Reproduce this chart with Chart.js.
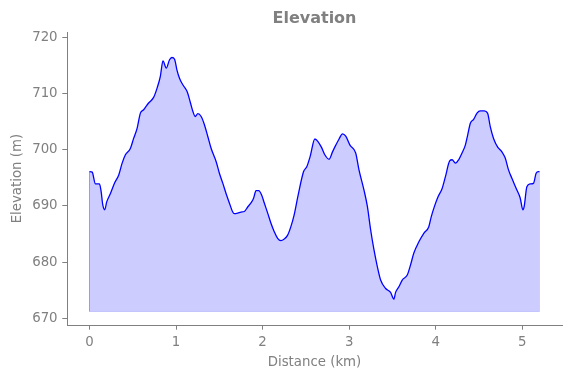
<!DOCTYPE html>
<html>
<head>
<meta charset="utf-8">
<script src="https://cdn.jsdelivr.net/npm/chart.js@4.4.1/dist/chart.umd.min.js"></script>
<style>
  html, body { margin: 0; padding: 0; background: #fff; }
  #wrap { width: 571px; height: 378px; position: relative; }
</style>
</head>
<body>
<div id="wrap"><canvas id="elev"></canvas></div>
<script>
// distance along the track (km) and elevation (m)
const KM = [
  0.000, 0.031, 0.069, 0.115, 0.135, 0.153, 0.176, 0.199, 0.242, 0.291,
  0.338, 0.377, 0.415, 0.472, 0.510, 0.550, 0.588, 0.626, 0.683, 0.741,
  0.780, 0.818, 0.849, 0.887, 0.925, 0.953, 0.983, 1.010, 1.040, 1.080,
  1.129, 1.167, 1.195, 1.221, 1.252, 1.290, 1.329, 1.368, 1.406, 1.463,
  1.501, 1.541, 1.578, 1.628, 1.652, 1.674, 1.713, 1.751, 1.789, 1.828,
  1.874, 1.897, 1.924, 1.955, 1.990, 2.020, 2.059, 2.097, 2.135, 2.174,
  2.212, 2.250, 2.290, 2.327, 2.365, 2.411, 2.474, 2.512, 2.550, 2.604,
  2.642, 2.681, 2.719, 2.768, 2.808, 2.846, 2.884, 2.923, 2.961, 3.010,
  3.076, 3.114, 3.172, 3.211, 3.249, 3.287, 3.326, 3.364, 3.422, 3.479,
  3.517, 3.537, 3.575, 3.614, 3.672, 3.710, 3.748, 3.806, 3.863, 3.921,
  3.948, 3.986, 4.024, 4.075, 4.113, 4.162, 4.190, 4.228, 4.266, 4.305,
  4.343, 4.370, 4.401, 4.439, 4.478, 4.516, 4.562, 4.600, 4.631, 4.669,
  4.715, 4.766, 4.804, 4.842, 4.881, 4.931, 4.977, 5.008, 5.023, 5.054,
  5.092, 5.130, 5.161, 5.188, 5.200
];
const ELEV = [
  696.1, 696.0, 693.9, 693.9, 692.5, 690.2, 689.3, 690.7, 692.2, 694.1,
  695.5, 697.6, 699.1, 700.2, 702.0, 703.8, 706.5, 707.1, 708.3, 709.3,
  710.9, 713.0, 715.8, 714.5, 716.0, 716.4, 716.1, 714.2, 712.7, 711.5,
  710.3, 708.3, 706.8, 705.9, 706.4, 705.9, 704.4, 702.3, 700.2, 697.9,
  695.8, 694.0, 692.2, 690.0, 689.0, 688.6, 688.7, 688.9, 689.0, 689.8,
  690.7, 691.4, 692.7, 692.7, 691.9, 690.5, 688.7, 686.9, 685.4, 684.2,
  683.8, 684.1, 684.8, 686.3, 688.4, 691.9, 696.1, 697.0, 698.8, 701.9,
  701.4, 700.4, 699.1, 698.3, 699.6, 700.8, 701.9, 702.8, 702.4, 700.8,
  699.4, 696.4, 692.8, 689.9, 685.7, 682.2, 679.2, 676.8, 675.3, 674.6,
  673.4, 674.6, 675.6, 676.8, 677.7, 679.5, 681.6, 683.6, 685.1, 686.3,
  688.0, 689.9, 691.5, 693.1, 695.2, 698.0, 698.2, 697.6, 698.2, 699.4,
  700.8, 702.6, 704.7, 705.4, 706.5, 706.9, 706.9, 706.5, 704.1, 702.0,
  700.5, 699.6, 698.5, 696.4, 694.9, 693.1, 691.4, 689.3, 689.9, 693.4,
  693.9, 694.0, 695.8, 696.1, 696.1
];
const BASE = 671.2;               // bottom of the shaded area
const X_TICKS = [0, 1, 2, 3, 4, 5];
const Y_TICKS = [670, 680, 690, 700, 710, 720];

const GREY = '#808080';
const FONT = 'DejaVu Sans, sans-serif';
const tickFont = { family: FONT, size: 13.33 };

const profile = KM.map((x, i) => ({ x, y: ELEV[i] }));
const last = KM.length - 1;
const outline = [
  { x: KM[0], y: ELEV[0] }, { x: KM[0], y: BASE },
  { x: KM[last], y: BASE }, { x: KM[last], y: ELEV[last] }
];

new Chart(document.getElementById('elev'), {
  type: 'line',
  data: {
    datasets: [
      {
        data: profile,
        borderColor: '#0000ff',
        borderWidth: 1.3,
        backgroundColor: 'rgba(0,0,255,0.2)',
        fill: { value: BASE },
        pointRadius: 0,
        cubicInterpolationMode: 'monotone',
        order: 1
      },
      {
        data: outline,
        borderColor: 'rgba(0,0,255,0.15)',
        borderWidth: 1,
        fill: false,
        pointRadius: 0,
        tension: 0,
        order: 2
      }
    ]
  },
  options: {
    responsive: true, maintainAspectRatio: false,
    animation: false,
    layout: { padding: { left: 0, right: 9, top: 0, bottom: 0 } },
    plugins: {
      legend: { display: false },
      tooltip: { enabled: false },
      title: {
        display: true, text: 'Elevation', color: GREY, fullSize: false,
        font: { family: FONT, size: 16, weight: 'bold' },
        padding: { top: 9, bottom: 4 }
      }
    },
    scales: {
      x: {
        type: 'linear', min: -0.26, max: 5.46,
        afterBuildTicks: s => { s.ticks = X_TICKS.map(v => ({ value: v })); },
        afterFit: s => { s.height = 53; },
        grid: { drawOnChartArea: false, color: GREY, tickLength: 4.7, tickWidth: 1 },
        border: { color: GREY, width: 1 },
        ticks: { color: GREY, font: tickFont, padding: 5, maxRotation: 0 },
        title: { display: true, text: 'Distance (km)', color: GREY, font: tickFont, padding: { top: 0, bottom: 7 } }
      },
      y: {
        type: 'linear', min: 668.8, max: 720.9,
        afterBuildTicks: s => { s.ticks = Y_TICKS.map(v => ({ value: v })); },
        afterFit: s => { s.width = 67; },
        grid: { drawOnChartArea: false, color: GREY, tickLength: 4.7, tickWidth: 1 },
        border: { color: GREY, width: 1 },
        ticks: { color: GREY, font: tickFont, padding: 4.7 },
        title: { display: true, text: 'Elevation (m)', color: GREY, font: tickFont, padding: { top: 10, bottom: 0 } }
      }
    }
  }
});
</script>
</body>
</html>
